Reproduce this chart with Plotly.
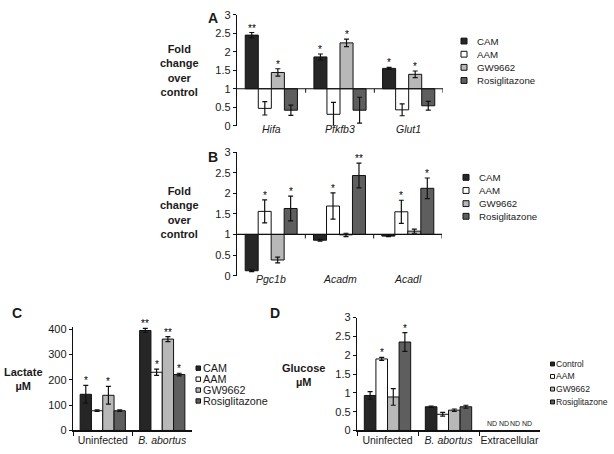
import plotly.graph_objects as go

# ---------------- data ----------------
SERIES_ABC = ["CAM", "AAM", "GW9662", "Rosiglitazone"]
SERIES_D = ["Control", "AAM", "GW9662", "Rosiglitazone"]

A_GENES = ["Hifa", "Pfkfb3", "Glut1"]
A_CAM = [2.45, 1.86, 1.55]
A_CAM_ERR = [0.07, 0.08, 0.03]
A_AAM = [0.47, 0.31, 0.43]
A_AAM_ERR = [0.18, 0.32, 0.16]
A_GW = [1.44, 2.24, 1.39]
A_GW_ERR = [0.10, 0.10, 0.09]
A_ROSI = [0.42, 0.42, 0.54]
A_ROSI_ERR = [0.14, 0.35, 0.12]
A_SIG_CAM = ["**", "*", "*"]
A_SIG_AAM = ["", "", ""]
A_SIG_GW = ["*", "*", "*"]
A_SIG_ROSI = ["", "", ""]

B_GENES = ["Pgc1b", "Acadm", "Acadl"]
B_CAM = [0.12, 0.86, 0.96]
B_CAM_ERR = [0.02, 0.02, 0.01]
B_AAM = [1.56, 1.69, 1.55]
B_AAM_ERR = [0.28, 0.32, 0.28]
B_GW = [0.38, 0.99, 1.08]
B_GW_ERR = [0.07, 0.04, 0.05]
B_ROSI = [1.63, 2.43, 2.12]
B_ROSI_ERR = [0.30, 0.30, 0.25]
B_SIG_CAM = ["", "", ""]
B_SIG_AAM = ["*", "*", "*"]
B_SIG_GW = ["", "", ""]
B_SIG_ROSI = ["*", "**", "*"]

C_GROUPS = ["Uninfected", "B. abortus"]
C_LABELS = ["Uninfected", "<i>B. abortus</i>"]
C_CAM = [143, 395]
C_CAM_ERR = [35, 8]
C_AAM = [78, 230]
C_AAM_ERR = [3, 12]
C_GW = [139, 361]
C_GW_ERR = [35, 10]
C_ROSI = [78, 221]
C_ROSI_ERR = [3, 5]
C_SIG_CAM = ["*", "**"]
C_SIG_AAM = ["", "*"]
C_SIG_GW = ["*", "**"]
C_SIG_ROSI = ["", "*"]

D_GROUPS = ["Uninfected", "B. abortus", "Extracellular"]
D_LABELS = ["Uninfected", "<i>B. abortus</i>", "Extracellular"]
D_CTRL = [0.93, 0.63, None]
D_CTRL_ERR = [0.10, 0.02, 0]
D_AAM = [1.90, 0.43, None]
D_AAM_ERR = [0.04, 0.05, 0]
D_GW = [0.89, 0.54, None]
D_GW_ERR = [0.22, 0.03, 0]
D_ROSI = [2.35, 0.63, None]
D_ROSI_ERR = [0.25, 0.04, 0]
D_SIG_CTRL = ["", "", ""]
D_SIG_AAM = ["*", "", ""]
D_SIG_GW = ["", "", ""]
D_SIG_ROSI = ["*", "", ""]
D_ND = ["", "", "ND"]

# ---------------- style ----------------
W, H = 614, 454
FONT = "Liberation Sans, Arial, sans-serif"
COLORS = ["#262626", "#ffffff", "#b8b8b8", "#5e5e5e"]
BARGAP = 0.24
TXT = "#1a1a1a"


def px_x(p):
    return p / W


def px_y(p):
    return 1 - p / H


fig = go.Figure()
annotations = []
shapes = []


def offset(i, n=4):
    w = (1 - BARGAP) / n
    return -(1 - BARGAP) / 2 + w * (i + 0.5)


def add_panel(ax, cats, series, vals, errs, sigs, base=None, nd=None):
    xa = "x" if ax == 1 else f"x{ax}"
    ya = "y" if ax == 1 else f"y{ax}"
    for i, (name, v, e, s) in enumerate(zip(series, vals, errs, sigs)):
        if base is None:
            yv = v
        else:
            yv = [None if q is None else q - base for q in v]
        fig.add_trace(go.Bar(
            x=cats, y=yv, base=base, name=name, showlegend=False,
            marker=dict(color=COLORS[i], line=dict(color="#111111", width=1)),
            error_y=dict(type="data", array=e, color="#111111", thickness=1.2, width=2.5),
            xaxis=xa, yaxis=ya, hoverinfo="skip",
        ))
        for k, star in enumerate(s):
            if star and v[k] is not None:
                annotations.append(dict(
                    x=k + offset(i), y=v[k] + e[k], xref=xa, yref=ya, text=star,
                    showarrow=False, yanchor="bottom", yshift=-3,
                    font=dict(size=10, color="#000000", family=FONT)))
        if nd is not None:
            for k, t in enumerate(nd):
                if t:
                    annotations.append(dict(
                        x=k + offset(i), y=0, xref=xa, yref=ya, text=t,
                        showarrow=False, yanchor="bottom", yshift=1,
                        font=dict(size=7, color=TXT, family=FONT)))


add_panel(1, A_GENES, SERIES_ABC,
          [A_CAM, A_AAM, A_GW, A_ROSI],
          [A_CAM_ERR, A_AAM_ERR, A_GW_ERR, A_ROSI_ERR],
          [A_SIG_CAM, A_SIG_AAM, A_SIG_GW, A_SIG_ROSI], base=1)
add_panel(2, B_GENES, SERIES_ABC,
          [B_CAM, B_AAM, B_GW, B_ROSI],
          [B_CAM_ERR, B_AAM_ERR, B_GW_ERR, B_ROSI_ERR],
          [B_SIG_CAM, B_SIG_AAM, B_SIG_GW, B_SIG_ROSI], base=1)
add_panel(3, C_GROUPS, SERIES_ABC,
          [C_CAM, C_AAM, C_GW, C_ROSI],
          [C_CAM_ERR, C_AAM_ERR, C_GW_ERR, C_ROSI_ERR],
          [C_SIG_CAM, C_SIG_AAM, C_SIG_GW, C_SIG_ROSI])
add_panel(4, D_GROUPS, SERIES_D,
          [D_CTRL, D_AAM, D_GW, D_ROSI],
          [D_CTRL_ERR, D_AAM_ERR, D_GW_ERR, D_ROSI_ERR],
          [D_SIG_CTRL, D_SIG_AAM, D_SIG_GW, D_SIG_ROSI], nd=D_ND)

# baselines at 1 for A and B, ticks at category boundaries, italic gene labels at y=0
for xa, ya, genes in [("x", "y", A_GENES), ("x2", "y2", B_GENES)]:
    n = len(genes)
    shapes.append(dict(type="line", xref=xa, yref=ya, x0=-0.5, x1=n - 0.5, y0=1, y1=1,
                       line=dict(color="#111111", width=1.2)))
    for b in range(n):
        shapes.append(dict(type="line", xref=xa, yref=ya, x0=b + 0.5, x1=b + 0.5,
                           ysizemode="pixel", yanchor=1, y0=0, y1=-4,
                           line=dict(color="#111111", width=1)))
    for k, g in enumerate(genes):
        annotations.append(dict(x=k, y=0, xref=xa, yref=ya, text=f"<i>{g}</i>",
                                showarrow=False, yanchor="middle", yshift=-3,
                                font=dict(size=10.5, color=TXT, family=FONT)))


def yaxis_style(domain, rng, dtick, anchor):
    return dict(domain=domain, range=rng, dtick=dtick, anchor=anchor,
                showline=True, linecolor="#111111", linewidth=1.2,
                ticks="outside", ticklen=3, tickcolor="#111111",
                showgrid=False, zeroline=False, fixedrange=True,
                tickfont=dict(size=11, color=TXT, family=FONT))


def cat_axis(domain, cats, labels, anchor, line):
    d = dict(domain=domain, anchor=anchor, type="category",
             range=[-0.5, len(cats) - 0.5], tickangle=0, fixedrange=True,
             tickvals=cats, ticktext=labels, showgrid=False, zeroline=False,
             tickfont=dict(size=10.5, color=TXT, family=FONT))
    if line:
        d.update(showline=True, linecolor="#111111", linewidth=1.2,
                 ticks="outside", tickson="boundaries", ticklen=4, tickcolor="#111111")
    else:
        d.update(showline=False, ticks="", showticklabels=False)
    return d


A_X = [px_x(237), px_x(443)]
A_Y = [px_y(123), px_y(9)]
B_X = [px_x(237), px_x(442)]
B_Y = [px_y(277), px_y(150)]
C_X = [px_x(73), px_x(192)]
C_Y = [px_y(436), px_y(329.4)]
D_X = [px_x(357), px_x(540)]
D_Y = [px_y(436), px_y(320)]

fig.update_layout(
    xaxis=cat_axis(A_X, A_GENES, A_GENES, "y", False),
    yaxis=yaxis_style(A_Y, [0, 3], 0.5, "x"),
    xaxis2=cat_axis(B_X, B_GENES, B_GENES, "y2", False),
    yaxis2=yaxis_style(B_Y, [0, 3], 0.5, "x2"),
    xaxis3=cat_axis(C_X, C_GROUPS, C_LABELS, "y3", True),
    yaxis3=yaxis_style(C_Y, [0, 410], 100, "x3"),
    xaxis4=cat_axis(D_X, D_GROUPS, D_LABELS, "y4", True),
    yaxis4=yaxis_style(D_Y, [0, 3], 0.5, "x4"),
)


# legends (compact, drawn as shapes + text)
def legend(names, x_sq, x_txt, ys, size, sq):
    for i, (name, yc) in enumerate(zip(names, ys)):
        shapes.append(dict(type="rect", xref="paper", yref="paper",
                           x0=px_x(x_sq), x1=px_x(x_sq + sq),
                           y0=px_y(yc + sq / 2), y1=px_y(yc - sq / 2),
                           fillcolor=COLORS[i], line=dict(color="#111111", width=1)))
        annotations.append(dict(x=px_x(x_txt), y=px_y(yc), xref="paper", yref="paper",
                                text=name, showarrow=False, xanchor="left", yanchor="middle",
                                font=dict(size=size, color=TXT, family=FONT)))


legend(SERIES_ABC, 461, 475, [36, 49.5, 63, 76.5], 9.7, 6)
legend(SERIES_ABC, 463, 477, [176, 189.5, 203, 216], 9.7, 6)
legend(SERIES_ABC, 196, 201, [372, 383.3, 394.5, 405.7], 10.8, 4.5)
legend(SERIES_D, 550.5, 554, [367.7, 380.5, 393.5, 406.7], 8.6, 4)


# axis titles and panel letters
def label(text, x, y, size, bold=True):
    annotations.append(dict(x=px_x(x), y=px_y(y), xref="paper", yref="paper",
                            text=f"<b>{text}</b>" if bold else text, showarrow=False,
                            xanchor="center", yanchor="middle", align="center",
                            font=dict(size=size, color=TXT, family=FONT)))


label("Fold<br>change<br>over<br>control", 179, 66, 11)
label("Fold<br>change<br>over<br>control", 179, 212, 11)
label("Lactate<br>µM", 23, 383, 11)
label("Glucose<br>µM", 303, 379, 11)
label("A", 213, 12, 14)
label("B", 213, 155, 14)
label("C", 17, 315, 14)
label("D", 275, 315, 14)

fig.update_layout(
    width=W, height=H, margin=dict(l=0, r=0, t=0, b=0),
    paper_bgcolor="white", plot_bgcolor="white",
    barmode="group", bargap=BARGAP, bargroupgap=0.0,
    showlegend=False, font=dict(family=FONT, color=TXT),
    annotations=annotations, shapes=shapes, hovermode=False,
)

fig.write_html("out.html", config={"displayModeBar": False, "staticPlot": True},
               post_script="document.body.style.margin='0px';")
